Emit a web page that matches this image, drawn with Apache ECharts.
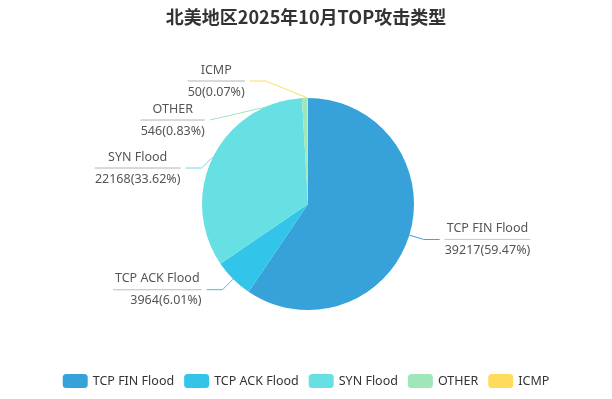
<!DOCTYPE html>
<html><head><meta charset="utf-8">
<script src="https://cdn.jsdelivr.net/npm/echarts@6/dist/echarts.min.js"></script>
<style>html,body{margin:0;padding:0;background:#fff}#c{width:612px;height:399px}</style>
</head><body><div id="c"></div>
<script>
const titleText = '北美地区2025年10月TOP攻击类型';
const categories = ['TCP FIN Flood', 'TCP ACK Flood', 'SYN Flood', 'OTHER', 'ICMP'];
const values = [39217, 3964, 22168, 546, 50];
const colors = ['#37a2da', '#32c5e9', '#67e0e3', '#9fe6b8', '#ffdb5c'];
// small label nudges (to mimic the reference's label spreading)
const labelShift = { 'ICMP': [-42, -2], 'SYN Flood': [0, 11] };

const chart = echarts.init(document.getElementById('c'));
chart.setOption({
  animation: false,
  color: colors,
  title: {
    text: titleText, left: 'center', top: 3,
    textStyle: { fontSize: 18, fontWeight: 'bold', color: '#333', fontFamily: 'Noto Sans CJK SC, sans-serif' }
  },
  legend: {
    bottom: 6, left: 'center', itemWidth: 25, itemHeight: 14, itemGap: 10,
    textStyle: { fontSize: 12.5, color: '#333', fontFamily: 'Noto Sans, sans-serif' },
    data: categories
  },
  series: [{
    type: 'pie',
    center: [308, 204],
    radius: 106,
    startAngle: 90,
    data: categories.map((n, i) => ({ name: n, value: values[i] })),
    label: {
      formatter: '{b|{b}}\n{hr|}\n{c|{c}({d}%)}',
      color: '#555',
      fontFamily: 'Noto Sans, sans-serif',
      rich: {
        b: { fontSize: 12.5, color: '#555', lineHeight: 22, align: 'center', padding: [0, 2] },
        hr: { borderColor: '#ccc', width: '100%', borderWidth: 1, height: 0 },
        c: { fontSize: 12.5, color: '#555', lineHeight: 22 }
      }
    },
    labelLine: { length: 15, length2: 16 },
    labelLayout: function (p) {
      const s = labelShift[categories[p.dataIndex]];
      if (!s || !p.labelLinePoints) return {};
      const pts = p.labelLinePoints;
      const end = [pts[2][0] + s[0], pts[2][1] + s[1]];
      const bend = [end[0] + 16, end[1]];
      return { dx: s[0], dy: s[1], labelLinePoints: [pts[0], bend, end] };
    }
  }]
});
</script></body></html>
